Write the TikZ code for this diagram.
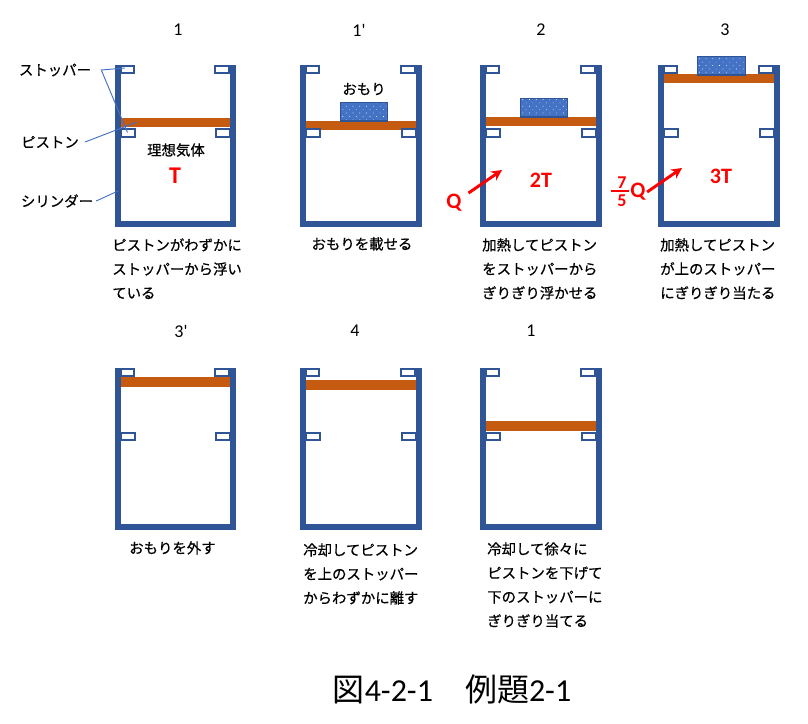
\documentclass[tikz,border=0pt]{standalone}
\usepackage{fontspec}
\setmainfont{Carlito}
\newfontfamily\jp{Noto Sans CJK JP}
\newfontfamily\jpb[FakeBold=0.6]{Noto Sans CJK JP}
\usetikzlibrary{patterns.meta,arrows.meta}
\definecolor{wallblue}{HTML}{2F5597}
\definecolor{pistonbrown}{HTML}{C55A11}
\definecolor{weightblue}{HTML}{4472C4}
\tikzset{
  wall/.style={draw=wallblue,line width=4.4pt,miter limit=10},
  stopper/.style={draw=wallblue,line width=1.5pt,fill=white},
  piston/.style={fill=pistonbrown},
  weight/.style={draw=wallblue,line width=1.3pt,pattern={Dots[radius=0.35pt,distance=3.6pt,angle=45]},pattern color=white,preaction={fill=weightblue}},
  leader/.style={draw=weightblue,line width=0.7pt},
  jptext/.style={inner sep=0pt,align=left,font=\jpb\fontsize{10.8}{18}\selectfont},
  stateno/.style={inner sep=0pt,font=\fontsize{13.5}{16}\selectfont},
  heat/.style={text=red,font=\bfseries\fontsize{16.5}{19}\selectfont},
  heatfrac/.style={text=red,inner sep=0pt,font=\bfseries\fontsize{13.5}{16}\selectfont},
  heatarrow/.style={draw=red,line width=2.2pt,-{Stealth[length=8pt,width=8pt]}}
}
\begin{document}
\begin{tikzpicture}[x=0.75pt,y=-0.75pt]
\useasboundingbox (0,0) rectangle (808,724);

% cylinders: left edge / top edge / piston top / right wall
\foreach \cx/\cy/\py/\cw in {115/65/118/118,300/65/121/119,480/65/117/119,658/65/74/119,115/368/377/118,300/368/380/119,480/368/421/119}{
  \fill[piston] (\cx+5,\py) rectangle (\cx+\cw-2,\py+9.5);
  \draw[wall] (\cx+3,\cy) -- (\cx+3,\cy+159) -- (\cx+\cw,\cy+159) -- (\cx+\cw,\cy);
  \draw[stopper] (\cx+6,\cy+1) rectangle (\cx+19,\cy+8);
  \draw[stopper] (\cx+\cw-18,\cy+1) rectangle (\cx+\cw-4,\cy+8);
  \draw[stopper] (\cx+6,\cy+64.5) rectangle (\cx+20,\cy+72);
  \draw[stopper] (\cx+\cw-17,\cy+64.5) rectangle (\cx+\cw-3,\cy+72);
}

% weights
\draw[weight] (340.5,102.5) rectangle (387.5,121);
\draw[weight] (520.5,98.5) rectangle (567.5,117);
\draw[weight] (697.5,56.5) rectangle (745.5,75);

% state numbers
\node[stateno] (no1) at (178,30) {1};
\node[stateno] (no1p) at (359,30) {1\textquotesingle};
\node[stateno] (no2) at (541,30) {2};
\node[stateno] (no3) at (725,30) {3};
\node[stateno] (no3p) at (181,331) {3\textquotesingle};
\node[stateno] (no4) at (355,331) {4};
\node[stateno] (no1b) at (531,331) {1};

% part names
\node[jptext,inner xsep=7.5pt] (stopname) at (55,70) {ストッパー};
\node[jptext,inner xsep=4.5pt] (pistname) at (50,142) {ピストン};
\node[jptext,inner xsep=2.2pt] (cylname) at (57,201) {シリンダー};
\coordinate (stoptop) at (125,68);
\coordinate (stoplow) at (127.5,132.5);
\coordinate (pistend) at (137,122);
\coordinate (cylend) at (118,191);
\draw[leader] (stoptop) -- (stopname.east) -- (stoplow);
\draw[leader] (pistname.east) -- (pistend);
\draw[leader] (cylname.east) -- (cylend);

\node[jptext] (gas) at (176,150) {理想気体};
\node[jptext] (weightname) at (364,89) {おもり};

% temperatures and heat
\node[heat,font=\bfseries\fontsize{18}{21}\selectfont] (temp1) at (175,176) {T};
\node[heat] (temp2) at (541,180) {2T};
\node[heat] (temp3) at (721,176) {3T};
\node[heat,inner sep=5pt] (heat2) at (454,203) {Q};
\node[heat,inner sep=1pt] (heat3) at (638,192) {Q};
\node[heatfrac] (seven) at (622,183) {7};
\node[heatfrac] (five) at (622,201) {5};
\draw[red,line width=1.5pt] (seven.south) ++(-11,1.5) -- ++(18,0);
\coordinate (heat2end) at (502,170);
\coordinate (heat3end) at (682,168);
\draw[heatarrow] (heat2) -- (heat2end);
\draw[heatarrow] (heat3.east) -- (heat3end);

% captions
\node[jptext,anchor=north west] (cap1) at (112,238) {ピストンがわずかに\\ストッパーから浮い\\ている};
\node[jptext,anchor=north] (cap1p) at (362,237) {おもりを載せる};
\node[jptext,anchor=north west] (cap2) at (482,238) {加熱してピストン\\をストッパーから\\ぎりぎり浮かせる};
\node[jptext,anchor=north west] (cap3) at (660,238) {加熱してピストン\\が上のストッパー\\にぎりぎり当たる};
\node[jptext,anchor=north west] (cap3p) at (129,541) {おもりを外す};
\node[jptext,anchor=north west] (cap4) at (303,543) {冷却してピストン\\を上のストッパー\\からわずかに離す};
\node[jptext,anchor=north west] (cap1b) at (487,542) {冷却して徐々に\\ピストンを下げて\\下のストッパーに\\ぎりぎり当てる};

\node[inner sep=0pt,font=\fontsize{24}{28}\selectfont] (title) at (452,689) {{\jp 図}4-2-1{\jp 　例題}2-1};

\end{tikzpicture}
\end{document}
